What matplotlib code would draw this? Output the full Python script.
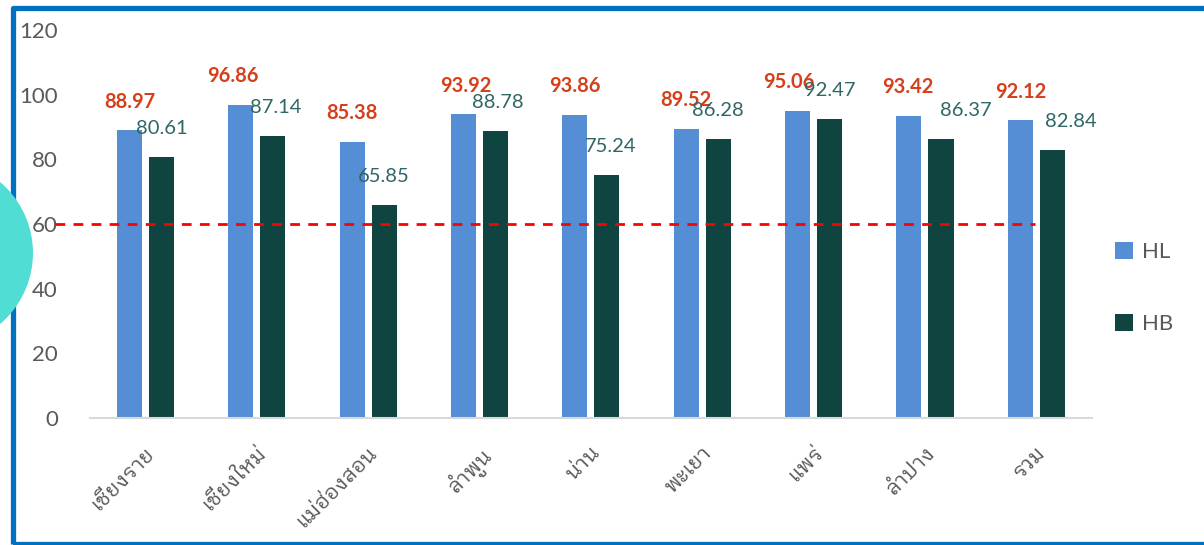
import matplotlib
matplotlib.use("Agg")
import matplotlib.pyplot as plt
from matplotlib import font_manager
from matplotlib.patches import Rectangle, Circle
from matplotlib.transforms import IdentityTransform
import numpy as np

categories = ["เชียงราย", "เชียงใหม่", "แม่ฮ่องสอน", "ลำพูน", "น่าน",
              "พะเยา", "แพร่", "ลำปาง", "รวม"]
hl_values = [88.97, 96.86, 85.38, 93.92, 93.86, 89.52, 95.06, 93.42, 92.12]
hb_values = [80.61, 87.14, 65.85, 88.78, 75.24, 86.28, 92.47, 86.37, 82.84]
threshold = 60
y_ticks = [0, 20, 40, 60, 80, 100, 120]

# label horizontal nudges (pixels) to mimic hand placement
hl_dx = [0, -8, 0, 2, 0, 0, -9, -1, 0]
hb_dx = [0, 3, 0, 2, 4, 0, 0, 25, 19]


def find_thai_family():
    try:
        from fontTools.ttLib import TTFont
    except Exception:
        return None
    found = []
    for f in font_manager.fontManager.ttflist:
        try:
            tt = TTFont(f.fname, fontNumber=0, lazy=True)
            cmap = tt.getBestCmap()
            if cmap and 0x0E40 in cmap and 0x0E0A in cmap:
                found.append(f.name)
        except Exception:
            pass
    if not found:
        return None
    prefer = ["Looped", "Loma", "Garuda", "Waree", "Tahoma", "Norasi",
              "Kinnari", "Sawasdee", "Noto Sans Thai"]
    for p in prefer:
        for n in found:
            if p in n:
                return n
    return found[0]


thai_family = find_thai_family()
base_family = "Lato"
plt.rcParams["font.family"] = [base_family, "DejaVu Sans"]
thai_fams = ([thai_family] if thai_family else []) + [base_family, "DejaVu Sans"]

W, H = 1204, 545
fig = plt.figure(figsize=(W / 100, H / 100), dpi=100)
fig.patch.set_facecolor("white")

ax = fig.add_axes([89.8 / W, 1 - 418 / H, (1092 - 89.8) / W, (418 - 30) / H])

x = np.arange(len(categories))
bw = 0.225
off = 0.144
hl_color = "#558ED5"
hb_color = "#0F4441"
b1 = ax.bar(x - off, hl_values, bw, color=hl_color, label="HL", zorder=2)
b2 = ax.bar(x + off, hb_values, bw, color=hb_color, label="HB", zorder=2)

ax.set_xlim(-0.5, len(categories) - 0.5)
ax.set_ylim(0, 120)
ax.set_yticks(y_ticks)
ax.set_yticklabels([str(v) for v in y_ticks], fontsize=16, color="#595959")
ax.tick_params(axis="y", length=0, pad=23)
ax.set_xticks(x)
ax.set_xticklabels(categories, rotation=45, ha="right", rotation_mode="anchor",
                   fontsize=15, color="#595959", family=thai_fams)
ax.tick_params(axis="x", length=0, pad=18)
for s in ["left", "right", "top"]:
    ax.spines[s].set_visible(False)
ax.spines["bottom"].set_color("#D9D9D9")
ax.spines["bottom"].set_linewidth(1.5)

# threshold line
ax.plot([-0.81, 7.99], [threshold, threshold], color="#FF0000", lw=2.0,
        ls=(0, (3.5, 3)), clip_on=False, zorder=3)

# data labels
for i in range(len(categories)):
    ax.annotate(f"{hl_values[i]:.2f}", (x[i] - off, hl_values[i]),
                xytext=(hl_dx[i] * 0.72, 20.5), textcoords="offset points",
                ha="center", va="center", fontsize=14.5, fontweight="bold",
                color="#D5401A", zorder=4)
    ax.annotate(f"{hb_values[i]:.2f}", (x[i] + off, hb_values[i]),
                xytext=(hb_dx[i] * 0.72, 20.5), textcoords="offset points",
                ha="center", va="center", fontsize=14.5,
                color="#2F6666", zorder=4)

# legend
fig.legend(handles=[b1, b2], labels=["HL", "HB"], loc="center left",
           bbox_to_anchor=(1115 / W, 1 - 288 / H), frameon=False,
           fontsize=16, labelcolor="#595959", handlelength=0.8,
           handleheight=0.8, handletextpad=0.4, labelspacing=2.3,
           borderpad=0, borderaxespad=0)

# outer blue frame
frame = Rectangle((13, 1.5), 1400, 545 - 7.5 - 1.5, transform=IdentityTransform(),
                  fill=False, edgecolor="#0070C0", linewidth=3.8,
                  joinstyle="round", zorder=10)
fig.add_artist(frame)
# decorative circle
circ = Circle((-60, 545 - 253), 93, transform=IdentityTransform(),
              facecolor="#50DDD4", edgecolor="none", zorder=11)
fig.add_artist(circ)

fig.savefig("out.png", dpi=100)
